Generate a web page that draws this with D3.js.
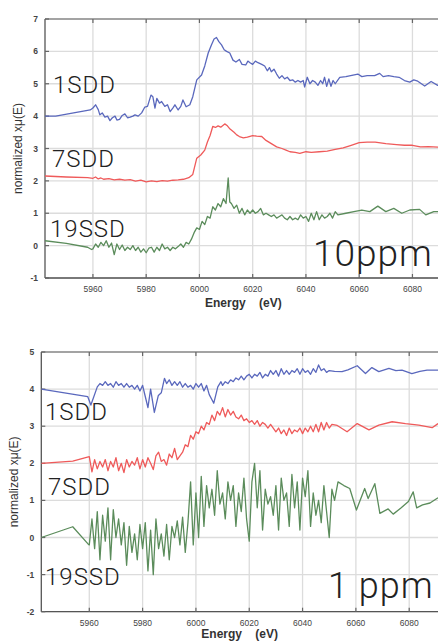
<!DOCTYPE html>
<html>
<head>
<meta charset="utf-8">
<script src="https://cdn.jsdelivr.net/npm/d3@7"></script>
<style>
  body { margin: 0; background: #fff; }
  svg text { font-family: "Liberation Sans", Arial, sans-serif; }
  svg text.lab { font-family: Roboto, "Liberation Sans", sans-serif; font-weight: 300; letter-spacing: 1px; }
</style>
</head>
<body>
<svg id="chart" width="438" height="642"></svg>
<script>
// tick labels
var energyTicks = [5960, 5980, 6000, 6020, 6040, 6060, 6080];
var yTicksTop = [-1, 0, 1, 2, 3, 4, 5, 6, 7];
var yTicksBottom = [-2, -1, 0, 1, 2, 3, 4, 5];

// 10 ppm panel  [energy eV, normalized xmu]
var sdd1_10 = [[5942,4.0],[5946,4.0],[5959,4.19],[5960,4.25],[5961,4.35],[5962,4.2],[5962.6,4.04],[5963.5,4.1],[5964.5,3.97],[5965.5,4.0],[5966.4,3.86],[5967.3,3.95],[5968.3,4.0],[5969,3.88],[5970,3.9],[5971,4.02],[5972,4.07],[5973,3.95],[5974,3.97],[5975,4.0],[5975.8,4.04],[5977,4.0],[5978.3,4.1],[5979.5,4.28],[5980.5,4.3],[5981.8,4.65],[5982.5,4.6],[5983.3,4.25],[5984,4.55],[5985,4.4],[5985.8,4.45],[5987,4.3],[5988,4.35],[5989,4.14],[5990,4.25],[5990.8,4.35],[5992,4.19],[5993,4.3],[5993.8,4.5],[5995,4.29],[5996.4,4.35],[5997.5,4.6],[5999,5.12],[6000.8,5.27],[6002,5.55],[6003.3,5.95],[6004.5,6.2],[6005.5,6.38],[6006.4,6.43],[6007.3,6.3],[6008.3,6.2],[6009.3,6.05],[6010.2,6.0],[6011.4,5.95],[6012.6,5.73],[6013.7,5.67],[6015,5.75],[6016,5.6],[6017.4,5.58],[6018.2,5.7],[6019,5.65],[6020,5.6],[6021,5.7],[6022,5.65],[6023.4,5.6],[6024.5,5.55],[6025.5,5.4],[6026.3,5.5],[6027,5.37],[6028,5.45],[6029,5.3],[6030,5.17],[6031,5.25],[6032,5.15],[6033,5.2],[6034,5.1],[6035,5.12],[6036,5.05],[6037,5.1],[6038,5.05],[6039,5.1],[6039.5,4.9],[6040.5,5.2],[6041.5,5.0],[6042.5,5.1],[6043.5,5.05],[6044.5,4.95],[6045.5,5.1],[6046.3,5.0],[6047,5.2],[6047.8,4.92],[6048.6,5.15],[6049.4,4.92],[6050.2,5.1],[6051,5.0],[6052.7,5.2],[6055,5.22],[6059.5,5.3],[6061,5.22],[6063,5.25],[6065.8,5.25],[6067.7,5.32],[6069,5.22],[6071,5.25],[6073,5.22],[6075,5.2],[6077,5.1],[6079,5.05],[6080.5,5.12],[6082,5.08],[6084.6,4.93],[6087,5.07],[6089.5,4.95],[6090,4.97]];

var sdd7_10 = [[5942,2.15],[5950,2.12],[5958,2.1],[5960,2.08],[5961,2.12],[5962,2.06],[5963,2.09],[5964,2.05],[5966,2.07],[5968,2.03],[5970,2.05],[5972,2.02],[5974,2.04],[5976,1.99],[5978,2.02],[5980,1.97],[5982,2.0],[5984,1.98],[5986,2.01],[5988,1.99],[5990,2.02],[5992,2.03],[5994,2.05],[5996,2.1],[5997.5,2.2],[5999,2.7],[6000.5,2.8],[6002,2.95],[6003,3.2],[6004,3.4],[6005,3.68],[6006,3.65],[6007,3.7],[6008,3.66],[6009.5,3.76],[6010.5,3.7],[6011.5,3.6],[6013,3.5],[6014,3.42],[6015,3.37],[6016.5,3.33],[6018,3.35],[6020,3.4],[6021.5,3.38],[6023.4,3.37],[6025,3.25],[6027,3.15],[6029,3.05],[6031,3.0],[6032.5,2.95],[6034,2.9],[6036,2.88],[6037.7,2.85],[6040,2.9],[6042,2.88],[6045,2.9],[6048,2.92],[6051,2.97],[6054,3.02],[6057,3.1],[6060,3.18],[6063,3.2],[6066,3.2],[6070,3.15],[6074,3.12],[6077,3.1],[6080,3.1],[6083,3.05],[6086,3.06],[6090,3.04]];

var ssd19_10 = [[5942,0.15],[5950,0.07],[5958,-0.05],[5959.5,-0.12],[5960,-0.1],[5961,0.05],[5962,-0.05],[5963,0.1],[5964,0.0],[5965,0.15],[5966,-0.05],[5967,0.08],[5968,-0.28],[5969,0.05],[5970,-0.12],[5971,0.02],[5972,-0.15],[5973,-0.05],[5974,-0.12],[5975,0.0],[5976,-0.15],[5977,-0.05],[5978,-0.2],[5979,-0.1],[5980,-0.22],[5981,-0.08],[5982,-0.05],[5983,-0.2],[5984,-0.05],[5985,-0.15],[5986,0.05],[5987,-0.1],[5988,-0.05],[5989,-0.15],[5990,-0.05],[5991,-0.1],[5992,-0.03],[5993,0.05],[5994,-0.05],[5995,0.1],[5996,0.05],[5997,0.2],[5998,0.4],[5999,0.55],[6000,0.5],[6001,0.75],[6002,0.65],[6003,0.9],[6004,0.85],[6005,1.2],[6006,1.1],[6007,1.3],[6008,1.2],[6009,1.45],[6010,1.3],[6010.8,2.09],[6011.4,1.35],[6012,1.3],[6013,1.15],[6014,1.25],[6015,1.0],[6016,1.15],[6017,0.95],[6018,1.1],[6019,1.0],[6020,1.1],[6021,1.0],[6022,1.05],[6023,1.15],[6024,0.95],[6025,1.0],[6026,0.95],[6027,0.9],[6028,0.95],[6029,0.85],[6030,0.9],[6031,0.95],[6032,0.85],[6033,0.8],[6034,0.9],[6035,0.8],[6036,0.85],[6037,0.8],[6038,0.95],[6039,0.85],[6040,0.9],[6041,0.75],[6042,1.0],[6043,0.8],[6044,1.05],[6045,0.8],[6046,0.95],[6047,0.85],[6048,0.9],[6049,1.0],[6050,0.85],[6051,1.05],[6052,0.95],[6055,1.0],[6058,1.05],[6061,1.1],[6064,1.05],[6067,1.22],[6070,1.05],[6073,1.15],[6076,1.0],[6079,1.1],[6082.7,1.12],[6085,0.95],[6088,1.05],[6090,1.05]];

// 1 ppm panel
var sdd1_1 = [[5942,4.0],[5959.4,3.8],[5960.6,3.57],[5963,4.06],[5964,4.15],[5965,4.1],[5966,4.2],[5967,4.1],[5968,4.15],[5969,4.05],[5970,4.2],[5971,4.1],[5972,4.15],[5973,4.05],[5974,4.15],[5975,4.05],[5976,4.1],[5977,4.0],[5978,4.1],[5979,3.95],[5980,4.1],[5981,3.8],[5982,3.5],[5983,4.0],[5984.4,3.37],[5985.9,3.83],[5987,3.9],[5988.2,4.29],[5989,4.15],[5990,4.25],[5991,4.1],[5992,4.2],[5993,4.1],[5994,4.2],[5995,4.05],[5996,4.15],[5997,4.05],[5998,4.1],[5999,4.0],[6000,4.15],[6001,4.05],[6002,4.15],[6003,3.95],[6004,4.1],[6005,3.85],[6006.7,3.62],[6008.2,4.06],[6009.4,4.2],[6010,4.1],[6011,4.2],[6012,4.15],[6013,4.25],[6014,4.2],[6015,4.3],[6016,4.25],[6017,4.35],[6018,4.25],[6019,4.35],[6020,4.4],[6021,4.3],[6022,4.4],[6023,4.35],[6024,4.45],[6025,4.3],[6026,4.4],[6027,4.35],[6028,4.5],[6029,4.4],[6030,4.5],[6031,4.35],[6032,4.55],[6033,4.4],[6034,4.5],[6035,4.4],[6036,4.5],[6037,4.45],[6038,4.55],[6039,4.4],[6040,4.55],[6041,4.45],[6042,4.5],[6043,4.4],[6044,4.55],[6045,4.45],[6046,4.65],[6047,4.5],[6048,4.55],[6049,4.45],[6050,4.5],[6052,4.48],[6054.8,4.47],[6057,4.52],[6060.5,4.63],[6063.6,4.42],[6066,4.58],[6068.6,4.47],[6072.4,4.56],[6075,4.5],[6077.3,4.51],[6081,4.42],[6084,4.48],[6086.7,4.51],[6090.8,4.51]];

var sdd7_1 = [[5942,2.0],[5953.8,2.06],[5960,2.18],[5961,1.77],[5962,2.1],[5963,1.85],[5964,2.05],[5965,1.9],[5966,2.1],[5967,1.8],[5968,2.05],[5969,1.9],[5970,2.15],[5971,1.8],[5972,2.0],[5973,1.75],[5974,2.1],[5975,1.9],[5976,2.05],[5977,1.95],[5978,2.15],[5979,1.85],[5980,2.1],[5981,1.9],[5982,2.15],[5983,2.0],[5984,1.83],[5985,2.2],[5986,2.3],[5987,2.05],[5988,2.1],[5989,1.95],[5990,2.25],[5991,2.15],[5992,2.4],[5993,2.1],[5994,2.2],[5995,2.3],[5996,2.5],[5997,2.45],[5998,2.75],[5999,2.65],[6000,2.85],[6001,2.8],[6002,3.0],[6003,2.9],[6004,3.1],[6005,3.05],[6006,3.3],[6007,3.15],[6008,3.4],[6009,3.3],[6010,3.5],[6011,3.25],[6012,3.45],[6013,3.3],[6014,3.4],[6015,3.25],[6016,3.2],[6017,3.3],[6018,3.15],[6019,3.2],[6020,3.1],[6021,3.15],[6022,3.05],[6023,3.15],[6024,3.0],[6025,3.1],[6026,3.05],[6027,2.95],[6028,3.05],[6029,2.95],[6030,2.85],[6031,2.95],[6032,2.8],[6033,2.9],[6034,2.75],[6035,2.95],[6036,2.8],[6037,2.9],[6038,2.85],[6039,2.95],[6040,2.8],[6041,2.95],[6042,2.85],[6043,3.0],[6044,2.85],[6045,3.05],[6046,2.85],[6047,3.1],[6048,2.9],[6049,3.1],[6050,2.95],[6051,3.05],[6053,3.02],[6056.7,2.85],[6060.5,3.07],[6064.9,2.9],[6068.6,3.03],[6073.6,3.12],[6078.6,3.07],[6083.6,3.03],[6088.6,2.96],[6090.8,3.07]];

var ssd19_1 = [[5942,0.0],[5953.8,0.29],[5959.6,-0.18],[5960,-0.2],[5961,0.5],[5962,-0.3],[5963,0.7],[5964,-0.6],[5965,0.6],[5966,-0.1],[5967,0.8],[5968,-0.6],[5969,0.75],[5970,0.0],[5971,0.5],[5972,-0.2],[5973,0.4],[5974,-0.75],[5975,0.3],[5976,-0.4],[5977,0.1],[5978,-0.6],[5979,0.35],[5980,-0.3],[5981,0.4],[5982,-0.9],[5983,0.2],[5984,-1.0],[5985,0.5],[5986,-0.3],[5987,0.1],[5988,-0.5],[5989,0.35],[5990,-0.6],[5991,0.3],[5992,0.0],[5993,0.45],[5994,-0.2],[5995,0.55],[5996,-0.4],[5997,0.4],[5998,1.5],[5999,-0.2],[6000,1.2],[6001,0.0],[6002,1.65],[6003,0.3],[6004,1.4],[6005,0.8],[6006,1.3],[6007,0.6],[6008,1.8],[6009,0.9],[6010,1.2],[6011,0.5],[6012,1.5],[6013,1.0],[6014,1.4],[6015,0.3],[6016,1.2],[6017,0.7],[6018,1.6],[6019,0.5],[6020,-0.1],[6021,1.5],[6022,2.0],[6023,0.8],[6024,1.8],[6025,0.2],[6026,1.3],[6027,0.9],[6028,1.1],[6029,0.6],[6030,1.4],[6031,0.2],[6032,1.6],[6033,1.0],[6034,1.2],[6035,0.3],[6036,1.7],[6037,0.8],[6038,1.5],[6039,0.2],[6040,1.6],[6041,1.1],[6042,1.8],[6043,0.3],[6044,1.2],[6045,0.6],[6046,1.0],[6047,0.4],[6048,1.4],[6049,0.7],[6050,0.0],[6051,1.3],[6052,1.0],[6053.3,1.5],[6055.5,1.4],[6057.7,1.32],[6060.2,0.74],[6063.3,1.32],[6064.6,1.05],[6067.1,1.45],[6069,0.65],[6072.1,0.77],[6074,0.63],[6077,0.8],[6079.7,0.97],[6081.5,1.23],[6082.8,0.8],[6085,0.88],[6087.8,0.93],[6090.8,1.07]];

var colors = { sdd1: "#5a68bd", sdd7: "#ef5a5a", ssd19: "#5b8c5b" };

var svg = d3.select("#chart");

function drawPanel(p)
{
  var g = svg.append("g");
  var x = d3.scaleLinear().domain(p.xDomain).range([p.left, p.right]);
  var y = d3.scaleLinear().domain(p.yDomain).range([p.bottom, p.top]);

  // grid
  g.selectAll("line.vgrid").data(energyTicks).enter()
    .append("line")
    .attr("x1", function(d) { return x(d); })
    .attr("x2", function(d) { return x(d); })
    .attr("y1", p.top).attr("y2", p.bottom)
    .attr("stroke", "#dcdcdc").attr("stroke-width", 1.3);
  g.selectAll("line.hgrid").data(p.yTicks).enter()
    .append("line")
    .attr("x1", p.left).attr("x2", p.right)
    .attr("y1", function(d) { return y(d); })
    .attr("y2", function(d) { return y(d); })
    .attr("stroke", "#dcdcdc").attr("stroke-width", 1.3);

  // frame
  g.append("line").attr("x1", p.left).attr("x2", p.right).attr("y1", p.top).attr("y2", p.top)
    .attr("stroke", "#8c8c8c").attr("stroke-width", 1.3);
  g.append("line").attr("x1", p.left).attr("x2", p.right).attr("y1", p.bottom).attr("y2", p.bottom)
    .attr("stroke", "#555").attr("stroke-width", 1.3);
  g.append("line").attr("x1", p.left).attr("x2", p.left).attr("y1", p.top).attr("y2", p.bottom)
    .attr("stroke", "#555").attr("stroke-width", 1.3);

  // tick marks
  g.selectAll("line.ttick").data(energyTicks).enter()
    .append("line")
    .attr("x1", function(d) { return x(d); })
    .attr("x2", function(d) { return x(d); })
    .attr("y1", p.top).attr("y2", p.top + 4)
    .attr("stroke", "#666").attr("stroke-width", 1.2);
  g.selectAll("line.btick").data(energyTicks).enter()
    .append("line")
    .attr("x1", function(d) { return x(d); })
    .attr("x2", function(d) { return x(d); })
    .attr("y1", p.bottom).attr("y2", p.bottom - 4)
    .attr("stroke", "#666").attr("stroke-width", 1.2);
  g.selectAll("line.ltick").data(p.yTicks).enter()
    .append("line")
    .attr("x1", p.left).attr("x2", p.left + 4)
    .attr("y1", function(d) { return y(d); })
    .attr("y2", function(d) { return y(d); })
    .attr("stroke", "#666").attr("stroke-width", 1.2);

  // tick labels
  g.selectAll("text.xt").data(energyTicks).enter()
    .append("text")
    .attr("x", function(d) { return x(d); })
    .attr("y", p.bottom + 14)
    .attr("text-anchor", "middle")
    .attr("font-size", 8.5)
    .attr("fill", "#444")
    .text(function(d) { return d; });
  g.selectAll("text.yt").data(p.yTicks).enter()
    .append("text")
    .attr("x", p.left - 7)
    .attr("y", function(d) { return y(d) + 3; })
    .attr("text-anchor", "end")
    .attr("font-size", 8.5)
    .attr("font-weight", "bold")
    .attr("fill", "#444")
    .text(function(d) { return d; });

  // axis titles
  g.append("text")
    .attr("x", p.left + 160)
    .attr("y", p.bottom + p.titleGap)
    .attr("font-size", 12)
    .attr("font-weight", "bold")
    .attr("fill", "#333")
    .attr("xml:space", "preserve")
    .text("Energy    (eV)");
  g.append("text")
    .attr("transform", "translate(" + (p.left - 23) + "," + ((p.top + p.bottom) / 2) + ") rotate(-90)")
    .attr("text-anchor", "middle")
    .attr("font-size", 12)
    .attr("fill", "#333")
    .text("normalized xμ(E)");

  // spectra
  var line = d3.line()
    .x(function(d) { return x(d[0]); })
    .y(function(d) { return y(d[1]); });
  var clipId = "clip" + p.top;
  svg.append("clipPath").attr("id", clipId).append("rect")
    .attr("x", p.left).attr("y", p.top).attr("width", p.right - p.left).attr("height", p.bottom - p.top);
  g.selectAll("path.spec").data(p.series).enter()
    .append("path")
    .attr("clip-path", "url(#" + clipId + ")")
    .attr("fill", "none")
    .attr("stroke", function(s) { return s.color; })
    .attr("stroke-width", 1.3)
    .attr("stroke-linejoin", "round")
    .attr("d", function(s) { return line(s.data); });

  // labels
  g.selectAll("text.lab").data(p.labels).enter()
    .append("text")
    .attr("class", "lab")
    .attr("x", function(d) { return d.x; })
    .attr("y", function(d) { return d.y; })
    .attr("font-size", function(d) { return d.size; })
    .attr("fill", "#222")
    .attr("xml:space", "preserve")
    .text(function(d) { return d.text; });
}

drawPanel({
  left: 45, right: 438, top: 19, bottom: 278, titleGap: 29,
  xDomain: [5942, 6089.6], yDomain: [-1, 7], yTicks: yTicksTop,
  series: [
    { data: sdd1_10, color: colors.sdd1 },
    { data: sdd7_10, color: colors.sdd7 },
    { data: ssd19_10, color: colors.ssd19 }
  ],
  labels: [
    { text: "1SDD", x: 53, y: 93, size: 24 },
    { text: "7SDD", x: 52, y: 167, size: 24 },
    { text: "19SSD", x: 50, y: 237, size: 24 },
    { text: "10ppm", x: 313, y: 266, size: 37 }
  ]
});

drawPanel({
  left: 41.3, right: 438, top: 352, bottom: 611.7, titleGap: 26,
  xDomain: [5942, 6090.8], yDomain: [-2, 5], yTicks: yTicksBottom,
  series: [
    { data: sdd1_1, color: colors.sdd1 },
    { data: sdd7_1, color: colors.sdd7 },
    { data: ssd19_1, color: colors.ssd19 }
  ],
  labels: [
    { text: "1SDD", x: 45, y: 420, size: 24 },
    { text: "7SDD", x: 48, y: 495, size: 24 },
    { text: "19SSD", x: 45, y: 585, size: 24 },
    { text: "1 ppm", x: 328, y: 598, size: 36 }
  ]
});
</script>
</body>
</html>
